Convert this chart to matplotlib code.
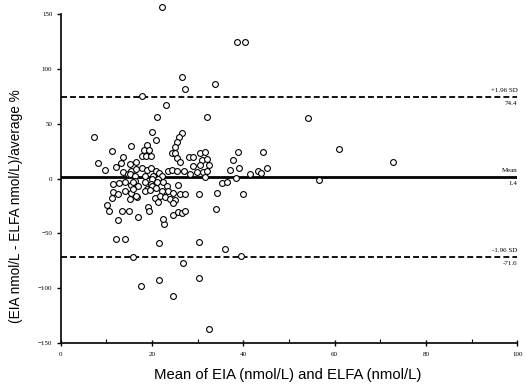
import matplotlib
matplotlib.use("Agg")
import matplotlib.pyplot as plt
import numpy as np

# Bland-Altman plot: EIA vs ELFA, percentage difference against the mean
mean_x = [
    22.1, 38.6, 40.4, 26.5, 27.2, 33.8, 23.0, 21.0, 32.0, 54.2, 17.7,
    7.4, 20.0, 20.8, 26.5, 26.0, 25.4, 25.0, 11.3, 15.5, 18.8, 18.3, 17.7, 19.4,
    18.7, 19.7, 24.3, 25.0, 25.4, 26.1, 28.0, 29.0, 30.5, 31.0, 30.5, 29.0,
    31.6, 32.0, 32.5, 38.9, 37.8, 39.1, 37.1, 44.4, 61.0, 72.7, 41.5, 43.3,
    43.9, 45.1, 8.2, 9.7, 12.1, 13.2, 13.7, 13.7, 14.8, 15.5, 15.2, 16.5,
    16.6, 17.7, 18.8, 19.7, 20.9, 21.6, 23.4, 24.4, 25.5, 26.9, 28.3, 29.8,
    31.2, 32.0, 15.2, 16.3, 18.5, 20.3, 22.1, 19.9, 21.4, 31.6, 38.4, 56.5,
    11.5, 12.8, 14.1, 15.3, 16.3, 15.9, 17.0, 18.5, 19.7, 21.0, 22.5, 23.2,
    25.8, 35.3, 36.5, 18.8, 19.9,
    11.5, 12.6, 14.1, 15.4, 15.2, 11.2, 16.8, 18.5, 19.6, 20.9, 22.1, 23.6,
    24.7, 15.9, 16.6, 20.7, 21.8, 22.8, 24.0, 25.0, 26.1, 27.2, 30.4, 34.2,
    40.0, 24.5, 21.4,
    10.1, 10.6, 13.4, 15.0, 17.0, 19.2, 19.4, 12.6, 22.6, 24.7, 25.8, 26.5,
    27.2, 34.0, 22.5,
    12.1, 14.1, 15.9, 21.6, 17.5, 21.5, 24.7, 26.7, 30.4, 30.2, 36.0, 39.5,
    32.4,
]
pct_diff = [
    157.0, 124.5, 124.5, 93.0, 81.5, 86.7, 67.0, 56.5, 56.2, 55.6, 75.8,
    38.0, 42.5, 35.5, 41.5, 38.0, 33.5, 29.0, 25.5, 30.0, 30.3, 25.7, 21.1, 25.7,
    21.1, 20.5, 23.5, 23.5, 18.5, 15.0, 20.0, 20.0, 23.2, 17.2, 12.0, 11.1,
    24.2, 17.5, 12.0, 24.2, 17.2, 9.9, 8.0, 24.2, 27.3, 15.6, 4.0, 7.4,
    5.0, 9.9, 14.5, 8.0, 10.4, 14.5, 19.6, 5.9, 4.4, 7.4, 13.5, 15.0,
    9.0, 9.9, 8.0, 9.9, 7.4, 4.9, 7.4, 8.0, 6.8, 6.8, 4.4, 5.9,
    5.9, 7.4, 4.4, 2.8, 2.8, 2.8, 2.8, -0.2, -0.2, 1.3, 0.7, -0.8,
    -4.8, -4.2, -3.3, -5.4, -1.7, -3.3, -6.3, -3.3, -4.8, -3.3, -3.3, -6.3,
    -5.4, -3.8, -3.3, -9.3, -6.3,
    -12.4, -13.9, -10.9, -13.4, -18.5, -17.6, -16.4, -10.9, -10.2, -8.4, -10.9, -10.9,
    -13.4, -9.3, -15.5, -17.6, -15.5, -17.0, -18.5, -19.4, -13.9, -13.9, -13.9, -13.0,
    -14.3, -22.5, -21.6,
    -24.0, -29.5, -29.5, -29.5, -34.7, -26.2, -29.2, -38.0, -41.4, -33.5, -30.5, -31.6,
    -29.2, -27.4, -36.8,
    -55.0, -55.4, -71.5, -58.7, -98.0, -92.3, -107.0, -76.8, -57.5, -90.8, -64.6, -70.4,
    -137.0,
]

bias = 1.4
upper_loa = 74.4
lower_loa = -71.6

x_ticks = [0, 20, 40, 60, 80, 100]
y_ticks = [-150, -100, -50, 0, 50, 100, 150]

fig = plt.figure(figsize=(5.26, 3.85), dpi=100)
ax = fig.add_axes([0.1154, 0.109, 0.868, 0.854])

ax.plot(mean_x, pct_diff, linestyle="none", marker="o", markersize=4.2,
        markerfacecolor="white", markeredgecolor="black", markeredgewidth=0.8,
        clip_on=False, zorder=3)

ax.axhline(bias, color="black", linewidth=2.0, zorder=2)
ax.axhline(upper_loa, color="black", linewidth=1.3, linestyle=(0, (3.3, 1.7)), zorder=2)
ax.axhline(lower_loa, color="black", linewidth=1.3, linestyle=(0, (3.3, 1.7)), zorder=2)

small = dict(family="Liberation Serif", fontsize=5, ha="right")
for value, top, bottom in [(upper_loa, "+1.96 SD", "74.4"),
                           (bias, "Mean", "1.4"),
                           (lower_loa, "-1.96 SD", "-71.6")]:
    ax.annotate(top, xy=(100, value), xytext=(0, 3), textcoords="offset points",
                va="bottom", **small)
    ax.annotate(bottom, xy=(100, value), xytext=(0, -3), textcoords="offset points",
                va="top", **small)

ax.set_xlim(0, 100)
ax.set_ylim(-150, 150)
ax.set_xticks(x_ticks)
ax.set_xticks([10, 30, 50, 70, 90], minor=True)
ax.set_yticks(y_ticks)

for side in ["top", "right"]:
    ax.spines[side].set_visible(False)
for side in ["left", "bottom"]:
    ax.spines[side].set_linewidth(1.2)

ax.tick_params(axis="x", which="major", direction="inout", length=5, width=1,
               labelsize=5, pad=4)
ax.tick_params(axis="x", which="minor", direction="in", length=3, width=0.8)
ax.tick_params(axis="y", direction="out", length=3, width=1, labelsize=5, pad=3)
for lab in ax.get_xticklabels() + ax.get_yticklabels():
    lab.set_family("Liberation Serif")

ax.set_xlabel("Mean of EIA (nmol/L) and ELFA (nmol/L)", family="Liberation Sans",
              fontsize=10.7)
ax.set_ylabel("(EIA nmol/L - ELFA nmol/L)/average %", family="Liberation Sans",
              fontsize=9.8)
ax.xaxis.set_label_coords(0.498, -0.075)
ax.yaxis.set_label_coords(-0.083, 0.415)

fig.savefig("out.png", dpi=100)
